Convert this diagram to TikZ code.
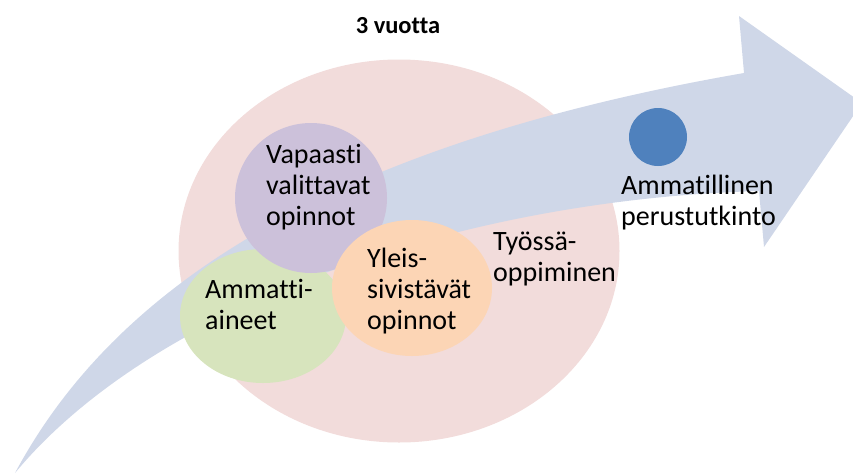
\documentclass[tikz,border=0pt]{standalone}
\usepackage{fontspec}
\setmainfont{Carlito}[Ligatures=NoCommon]
\usetikzlibrary{shapes.geometric}
\definecolor{pinkbg}{RGB}{242,220,219}
\definecolor{arrowc}{RGB}{207,215,232}
\definecolor{purp}{RGB}{204,193,218}
\definecolor{grn}{RGB}{215,228,189}
\definecolor{orng}{RGB}{252,213,181}
\definecolor{dotc}{RGB}{79,129,189}
\begin{document}
\begin{tikzpicture}[x=1pt,y=-1pt,
  blob/.style={ellipse, draw=none, inner sep=0pt},
  lbl/.style={font=\fontsize{28}{31}\selectfont, align=left, inner sep=0pt, anchor=base west, text=black}]
\useasboundingbox (0,0) rectangle (853,474);
\clip (0,0) rectangle (853,474);
\node[blob, fill=pinkbg, minimum width=441pt, minimum height=383pt] (pink) at (399,251) {};
\fill[arrowc] (15,473) .. controls (105,305) and (300,150) .. (744,73)
  -- (739,16) -- (862,103) -- (764,247) -- (759,191)
  .. controls (450,200) and (150,310) .. (15,473) -- cycle;
\node[blob, fill=grn, minimum width=166pt, minimum height=134pt] (green) at (263,316) {};
\node[blob, fill=purp, minimum width=152pt, minimum height=150pt] (purple) at (311,198) {};
\node[blob, fill=orng, minimum width=160pt, minimum height=136pt] (orange) at (412,288) {};
\node[circle, fill=dotc, inner sep=0pt, minimum size=58pt] (dot) at (658,137) {};
% base anchor of a multi-line node = baseline of its last line
\node[lbl] (vap) at (266,225) {Vapaasti\\valittavat\\opinnot};
\node[lbl] (amm) at (205,329) {Ammatti-\\aineet};
\node[lbl] (yle) at (367,329) {Yleis-\\sivistävät\\opinnot};
\node[lbl] (tyo) at (493,281) {Työssä-\\oppiminen};
\node[lbl] (tut) at (621,225) {Ammatillinen\\perustutkinto};
\node[font=\fontsize{24.5}{28}\selectfont\bfseries, inner sep=0pt, anchor=base] (title) at (398,33) {3 vuotta};
\end{tikzpicture}
\end{document}
